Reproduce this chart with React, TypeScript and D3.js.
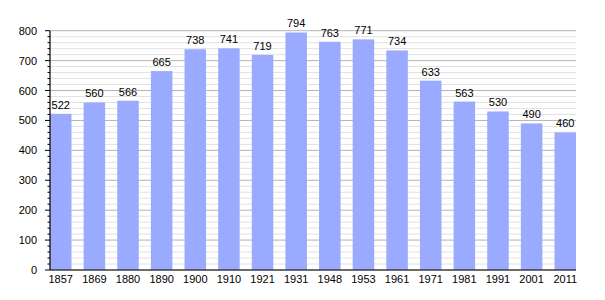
import React from "react";
import * as d3 from "d3";

const years = ["1857","1869","1880","1890","1900","1910","1921","1931","1948","1953","1961","1971","1981","1991","2001","2011"];
const population = [522,560,566,665,738,741,719,794,763,771,734,633,563,530,490,460];
const yTicks = [0,100,200,300,400,500,600,700,800];

export default function App() {
  const W = 605, H = 300;
  const x0 = 50, x1 = 576, y0 = 270, y1 = 30.7;
  const barW = 21.5;
  const step = (x1 - x0 - barW) / (years.length - 1);
  const y = d3.scaleLinear().domain([0, 800]).range([y0, y1]);
  const xPos = (i: number) => x0 + i * step;
  const minor = d3.range(0, 801, 20).filter(v => v % 100 !== 0);
  const font = "'Liberation Sans', Arial, sans-serif";
  return (
    <svg width={W} height={H} style={{ position: "absolute", left: 0, top: 0 }} fontFamily={font}>
      <rect width={W} height={H} fill="#fff" />
      {minor.map(v => (
        <line key={"m" + v} x1={x0} x2={x1} y1={y(v)} y2={y(v)} stroke="#e2e2e2" strokeWidth={1} />
      ))}
      {yTicks.map(v => (
        <line key={"g" + v} x1={x0} x2={x1} y1={y(v)} y2={y(v)} stroke="#b4b4b4" strokeWidth={1} />
      ))}
      {population.map((v, i) => (
        <rect key={"b" + i} x={xPos(i)} y={y(v)} width={barW} height={y0 - y(v)} fill="#99aaff" />
      ))}
      {population.map((v, i) => (
        <text key={"v" + i} x={xPos(i) + barW / 2} y={y(v) - 5} textAnchor="middle" fontSize={11} fill="#000">{v}</text>
      ))}
      {minor.map(v => (
        <line key={"mt" + v} x1={x0 - 2.5} x2={x0} y1={y(v)} y2={y(v)} stroke="#000" strokeWidth={1} />
      ))}
      {yTicks.map(v => (
        <line key={"t" + v} x1={x0 - 5} x2={x0} y1={y(v)} y2={y(v)} stroke="#000" strokeWidth={1} />
      ))}
      {yTicks.map(v => (
        <text key={"yl" + v} x={37} y={y(v) + 4} textAnchor="end" fontSize={11} fill="#000">{v}</text>
      ))}
      <line x1={x0} x2={x0} y1={y1} y2={y0} stroke="#000" strokeWidth={1.2} />
      <line x1={x0} x2={x1} y1={y0} y2={y0} stroke="#000" strokeWidth={1.2} />
      {years.map((yr, i) => (
        <text key={"x" + i} x={xPos(i) + barW / 2} y={282.5} textAnchor="middle" fontSize={11} fill="#000">{yr}</text>
      ))}
    </svg>
  );
}
